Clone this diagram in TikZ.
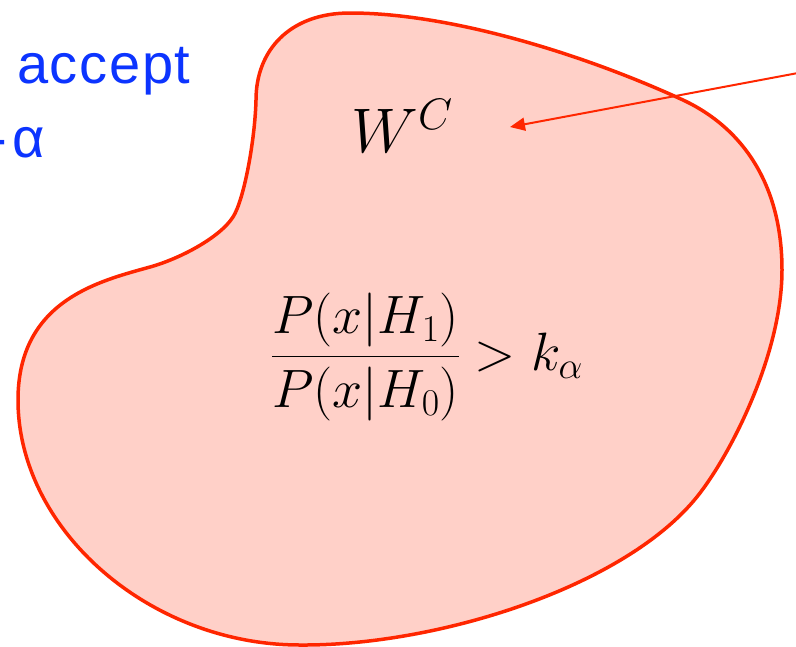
\RequirePackage{fix-cm}
\documentclass[tikz,border=0pt]{standalone}
\usepackage{amsmath}
\usepackage{fontspec}
\newfontfamily\labelfont[LetterSpace=3]{Liberation Sans}
\usepackage{tikz}
\usetikzlibrary{arrows.meta, positioning}
\definecolor{rojoreg}{RGB}{255,38,0}
\definecolor{rosareg}{RGB}{255,208,200}
\definecolor{azulacc}{RGB}{12,52,255}

\begin{document}
\begin{tikzpicture}[x=1pt, y=-1pt, >={Triangle[length=15pt,width=13pt]},
        region/.style={draw=rojoreg, line width=3.5pt, fill=rosareg},
        lbl/.style={text=azulacc, font=\labelfont\fontsize{56}{60}\selectfont, inner sep=0pt},
        mathlbl/.style={inner sep=0pt}]
      \useasboundingbox (0,0) rectangle (796,646);

      % rejection region W^C
      \draw[region] (256,100)
        .. controls (256,50) and (290,13) .. (350,13)
        .. controls (450,13) and (583,54) .. (683,100)
        .. controls (743,128) and (782,185) .. (782,270)
        .. controls (782,350) and (735,447) .. (700,493)
        .. controls (630,585) and (440,646) .. (300,645)
        .. controls (150,645) and (18,530) .. (18,400)
        .. controls (18,300) and (100,281) .. (150,267)
        .. controls (179,259) and (219.5,238) .. (233,217)
        .. controls (244,200) and (255,140) .. cycle;

      \node[lbl, anchor=base west] (acc) at (17,83) {accept};
      \node[lbl, anchor=base east] (alfa) at (45,157) {-\kern5pt α};

      \node[mathlbl, anchor=base west] (wc) at (351,152)
        {\fontsize{63}{70}\selectfont $W^C$};
      \node[mathlbl, anchor=west] (ratio) at (271,357)
        {\fontsize{54}{62}\selectfont $\dfrac{P(x|H_1)}{P(x|H_0)} > k_\alpha$};

      \coordinate (from) at (830,67);
      \coordinate (tip) at (510,127);
      \draw[->, rojoreg, line width=2pt] (from) -- (tip);
    \end{tikzpicture}
\end{document}
